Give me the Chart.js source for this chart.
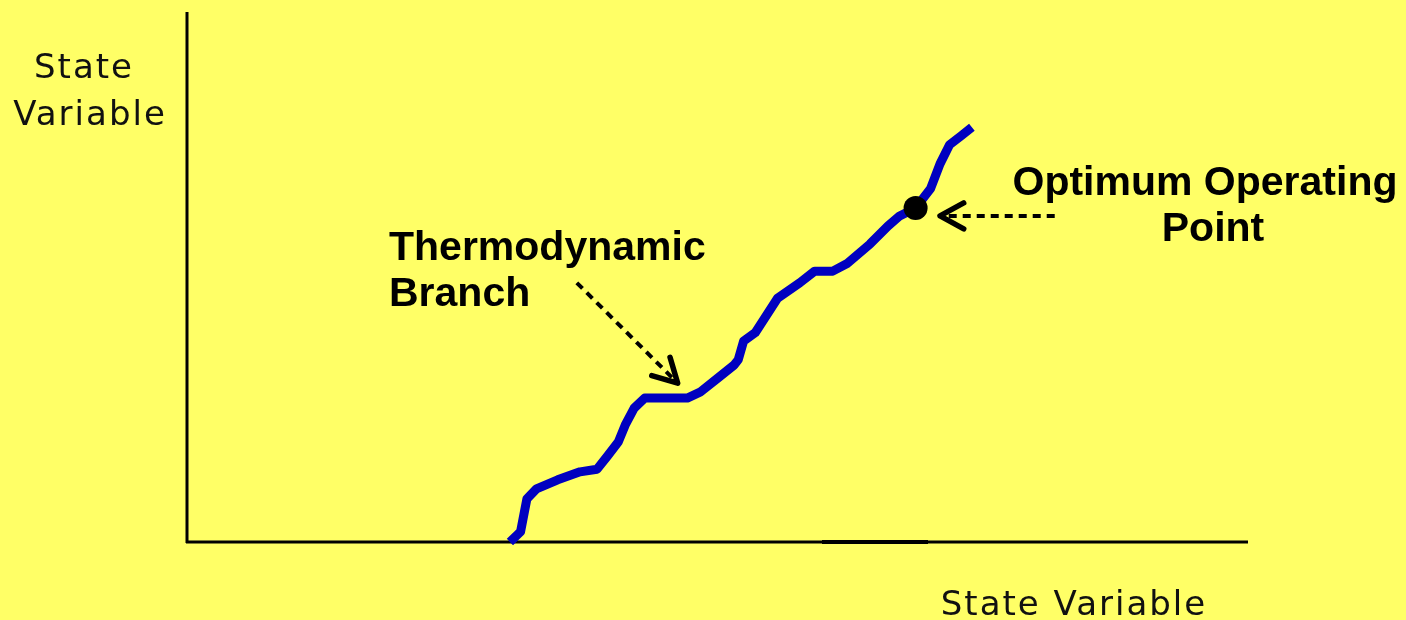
<!DOCTYPE html>
<html lang="en">
<head>
  <meta charset="UTF-8">
  <title>Thermodynamic Branch</title>
  <script src="https://cdn.jsdelivr.net/npm/chart.js"></script>
  <style>
    html, body { margin: 0; padding: 0; background: #FFFF66; }
    .chart-container { width: 1406px; height: 620px; }
  </style>
</head>
<body>
  <div class="chart-container">
    <canvas id="branchChart"></canvas>
  </div>

  <script>
    // State variable (x) and state variable (y) along the thermodynamic branch
    const branchX = [30.5, 31.5, 32.1, 33.0, 35.0, 37.1, 38.7, 39.7, 40.7, 41.4, 42.2, 43.2, 47.2, 48.4, 50.1,
      51.6, 52.0, 52.5, 53.6, 55.7, 57.8, 59.2, 60.9, 62.3, 64.4, 66.1, 67.2, 68.7, 70.1, 71.0, 71.9, 73.0, 74.0];
    const branchY = [0.2, 2.1, 8.3, 10.2, 11.9, 13.4, 13.9, 16.4, 19.0, 22.4, 25.4, 27.3, 27.3, 28.4, 31.1,
      33.5, 34.5, 38.0, 39.6, 46.1, 49.0, 51.2, 51.2, 52.7, 56.3, 59.7, 61.6, 63.1, 66.7, 71.4, 75.0, 76.7, 78.3];

    // optimum operating point
    const optimumX = [68.7];
    const optimumY = [63.1];

    // dashed arrows: [fromX, fromY, toX, toY]
    const branchArrow = [36.8, 49.0, 46.3, 30.1];
    const optimumArrow = [81.8, 61.6, 71.0, 61.6];

    const axisTitle = 'State Variable';

    const toPoints = (xs, ys) => xs.map((x, i) => ({ x: x, y: ys[i] }));

    function drawArrow(ctx, chart, a) {
      const xs = chart.scales.x, ys = chart.scales.y;
      const x1 = xs.getPixelForValue(a[0]), y1 = ys.getPixelForValue(a[1]);
      const x2 = xs.getPixelForValue(a[2]), y2 = ys.getPixelForValue(a[3]);
      const ang = Math.atan2(y2 - y1, x2 - x1);
      ctx.save();
      ctx.strokeStyle = '#000';
      ctx.lineWidth = 4;
      ctx.setLineDash([8, 6]);
      ctx.beginPath();
      ctx.moveTo(x1, y1);
      ctx.lineTo(x2 - 6 * Math.cos(ang), y2 - 6 * Math.sin(ang));
      ctx.stroke();
      // open arrow head
      ctx.setLineDash([]);
      ctx.lineWidth = 5.5;
      ctx.lineCap = 'round';
      ctx.lineJoin = 'round';
      const len = 27, spread = 0.5;
      ctx.beginPath();
      ctx.moveTo(x2 - len * Math.cos(ang - spread), y2 - len * Math.sin(ang - spread));
      ctx.lineTo(x2, y2);
      ctx.lineTo(x2 - len * Math.cos(ang + spread), y2 - len * Math.sin(ang + spread));
      ctx.stroke();
      ctx.restore();
    }

    const decorations = {
      id: 'decorations',
      beforeDraw(chart) {
        const ctx = chart.ctx;
        ctx.save();
        ctx.fillStyle = '#FFFF66';
        ctx.fillRect(0, 0, chart.width, chart.height);
        ctx.restore();
      },
      beforeDatasetsDraw(chart) {
        const ctx = chart.ctx;
        const { left, right, top, bottom } = chart.chartArea;
        ctx.save();
        ctx.strokeStyle = '#000';
        ctx.lineWidth = 3;
        ctx.beginPath();
        ctx.moveTo(left + 1, top);
        ctx.lineTo(left + 1, bottom);
        ctx.moveTo(left, bottom - 1);
        ctx.lineTo(right, bottom - 1);
        ctx.stroke();
        // slightly heavier stretch of the baseline
        ctx.lineWidth = 4;
        ctx.beginPath();
        ctx.moveTo(822, bottom - 1);
        ctx.lineTo(928, bottom - 1);
        ctx.stroke();
        ctx.restore();
      },
      afterDraw(chart) {
        const ctx = chart.ctx;
        drawArrow(ctx, chart, branchArrow);
        drawArrow(ctx, chart, optimumArrow);

        ctx.save();
        ctx.fillStyle = '#111';
        ctx.textAlign = 'center';
        ctx.textBaseline = 'alphabetic';
        ctx.font = '34px "DejaVu Sans"';
        ctx.letterSpacing = '2px';
        ctx.fillText('State', 84, 78);
        ctx.fillText('Variable', 90, 125);
        ctx.fillText(axisTitle, 1074, 615);

        ctx.letterSpacing = '0px';
        ctx.fillStyle = '#000';
        ctx.font = 'bold 41px "Liberation Sans", Arial, sans-serif';
        ctx.textAlign = 'left';
        ctx.fillText('Thermodynamic', 389, 260);
        ctx.fillText('Branch', 389, 306);
        ctx.textAlign = 'center';
        ctx.fillText('Optimum Operating', 1205, 195);
        ctx.fillText('Point', 1213, 241);
        ctx.restore();
      }
    };

    new Chart(document.getElementById('branchChart'), {
      type: 'line',
      data: {
        datasets: [
          {
            label: 'Thermodynamic Branch',
            data: toPoints(branchX, branchY),
            borderColor: '#0000C0',
            borderWidth: 9,
            borderJoinStyle: 'round',
            tension: 0,
            pointRadius: 0,
            fill: false,
            order: 2
          },
          {
            label: 'Optimum Operating Point',
            data: toPoints(optimumX, optimumY),
            showLine: false,
            pointRadius: 12,
            pointBackgroundColor: '#000',
            pointBorderColor: '#000',
            pointBorderWidth: 0,
            order: 1
          }
        ]
      },
      options: {
        responsive: true,
        maintainAspectRatio: false,
        animation: false,
        layout: { padding: { left: 186, top: 12, right: 158, bottom: 77 } },
        scales: {
          x: { type: 'linear', min: 0, max: 100, display: false },
          y: { type: 'linear', min: 0, max: 100, display: false }
        },
        plugins: {
          legend: { display: false },
          tooltip: { enabled: false }
        },
        clip: false
      },
      plugins: [decorations]
    });
  </script>
</body>
</html>
